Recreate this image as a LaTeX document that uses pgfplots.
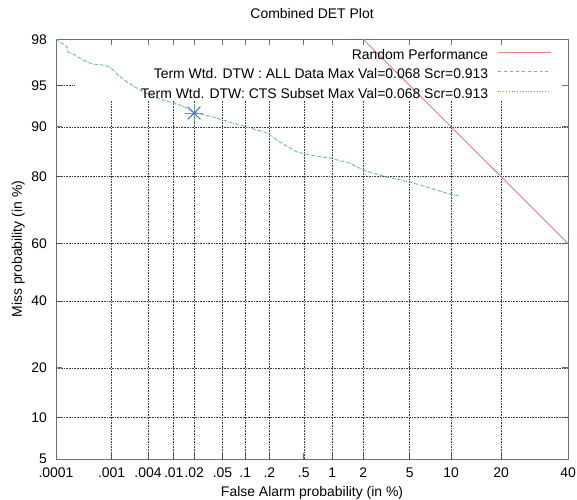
\documentclass[border=0pt]{standalone}
\usepackage{fontspec}
\setmainfont{Liberation Sans}
\usepackage{pgfplots}
\pgfplotsset{compat=1.18}
\definecolor{randred}{RGB}{232,125,125}
\definecolor{detgreen}{RGB}{80,215,110}
\definecolor{detblue}{RGB}{110,140,240}
\definecolor{mkgreen}{RGB}{60,200,60}
\definecolor{mkblue}{RGB}{90,90,230}
\definecolor{bordergray}{RGB}{110,110,110}
\tikzset{detgrid/.style={densely dotted, black!75, line width=0.6bp}}
% DET curve, values stored as normal deviates (probit of the probability)
% columns: probit(false alarm), probit(miss)
\pgfplotstableread{
x y
-4.753 2.054
-4.718 2.029
-4.690 2.010
-4.656 1.985
-4.647 1.940
-4.586 1.914
-4.542 1.888
-4.481 1.852
-4.428 1.835
-4.340 1.826
-4.279 1.808
-4.208 1.738
-4.129 1.676
-4.015 1.606
-3.866 1.535
-3.725 1.491
-3.637 1.465
-3.549 1.412
-3.373 1.368
-3.198 1.315
-3.075 1.280
-2.899 1.227
-2.785 1.147
-2.635 1.059
-2.521 1.033
-2.345 1.006
-2.170 0.962
-2.055 0.901
-1.845 0.839
-1.642 0.795
-1.467 0.742
-1.291 0.689
-1.212 0.672
}\detdata
\begin{document}
\begin{tikzpicture}[font=\fontsize{14}{16}\selectfont]
\begin{axis}[
  at={(56bp,41bp)}, anchor=south west,
  x=113.8bp, y=113.5bp,
  clip=false,
  xmin=-4.7534, xmax=-0.2533,
  ymin=-1.6449, ymax=2.0537,
  xtick={-4.7534,-4.2649,-3.9444,-3.7190,-3.5401,-3.2905,-3.0902,-2.8782,-2.5758,-2.3263,-2.0537,-1.6449,-1.2816,-0.8416,-0.2533},
  xticklabels={.0001,.001,.004,.01,.02,.05,.1,.2,.5,1,2,5,10,20,40},
  ytick={-1.6449,-1.2816,-0.8416,-0.2533,0.2533,0.8416,1.2816,1.6449,2.0537},
  yticklabels={},
  tick align=inside,
  major tick length=6bp,
  tick style={bordergray, line width=0.8bp},
  axis line style={bordergray, line width=1bp},
  /pgf/number format/assume math mode=true,
  xticklabel style={inner sep=0pt, anchor=base, yshift=-18bp},
  title={Combined DET Plot},
  title style={at={(axis description cs:0.5,1.035)}, anchor=base, inner sep=0pt},
  xlabel={False Alarm probability (in \%)},
  xlabel style={at={(axis description cs:0.5,-0.0905)}, anchor=base, inner sep=0pt},
  ylabel={Miss probability (in \%)},
  ylabel style={at={(axis description cs:-0.0664,0.5)}, anchor=base, inner sep=0pt},
  legend plot pos=right,
  legend cell align=right,
  legend style={draw=none, fill=none, inner sep=0pt, outer sep=0pt,
    at={(axis description cs:0.9668,0.9762)}, anchor=north east,
    nodes={inner sep=0pt, text height=10bp, text depth=3bp},
    row sep=6.5bp, column sep=9bp},
  legend image code/.code={\draw[#1] (0bp,3.5bp) -- (53bp,3.5bp);},
]
% grid: vertical lines stop below the key area
\draw[detgrid] (axis cs:-4.2649,-1.6449) -- (axis cs:-4.2649,1.509);
\draw[detgrid] (axis cs:-3.9444,-1.6449) -- (axis cs:-3.9444,1.509);
\draw[detgrid] (axis cs:-3.7190,-1.6449) -- (axis cs:-3.7190,1.509);
\draw[detgrid] (axis cs:-3.5401,-1.6449) -- (axis cs:-3.5401,1.509);
\draw[detgrid] (axis cs:-3.2905,-1.6449) -- (axis cs:-3.2905,1.509);
\draw[detgrid] (axis cs:-3.0902,-1.6449) -- (axis cs:-3.0902,1.509);
\draw[detgrid] (axis cs:-2.8782,-1.6449) -- (axis cs:-2.8782,1.509);
\draw[detgrid] (axis cs:-2.5758,-1.6449) -- (axis cs:-2.5758,1.509);
\draw[detgrid] (axis cs:-2.3263,-1.6449) -- (axis cs:-2.3263,1.509);
\draw[detgrid] (axis cs:-2.0537,-1.6449) -- (axis cs:-2.0537,1.509);
\draw[detgrid] (axis cs:-1.6449,-1.6449) -- (axis cs:-1.6449,1.509);
\draw[detgrid] (axis cs:-1.2816,-1.6449) -- (axis cs:-1.2816,1.509);
\draw[detgrid] (axis cs:-0.8416,-1.6449) -- (axis cs:-0.8416,1.509);
\draw[detgrid] (axis cs:-4.7534,-1.2816) -- (axis cs:-0.2533,-1.2816);
\draw[detgrid] (axis cs:-4.7534,-0.8416) -- (axis cs:-0.2533,-0.8416);
\draw[detgrid] (axis cs:-4.7534,-0.2533) -- (axis cs:-0.2533,-0.2533);
\draw[detgrid] (axis cs:-4.7534,0.2533) -- (axis cs:-0.2533,0.2533);
\draw[detgrid] (axis cs:-4.7534,0.8416) -- (axis cs:-0.2533,0.8416);
\draw[detgrid] (axis cs:-4.7534,1.2816) -- (axis cs:-0.2533,1.2816);
\draw[detgrid] (axis cs:-4.7534,1.6449) -- (axis cs:-4.586,1.6449);
% y tick labels
\node[anchor=east, inner sep=0pt] at (axis cs:-4.8325,-1.6449) {5};
\node[anchor=east, inner sep=0pt] at (axis cs:-4.8325,-1.2816) {10};
\node[anchor=east, inner sep=0pt] at (axis cs:-4.8325,-0.8416) {20};
\node[anchor=east, inner sep=0pt] at (axis cs:-4.8325,-0.2533) {40};
\node[anchor=east, inner sep=0pt] at (axis cs:-4.8325,0.2533) {60};
\node[anchor=east, inner sep=0pt] at (axis cs:-4.8325,0.8416) {80};
\node[anchor=east, inner sep=0pt] at (axis cs:-4.8325,1.2816) {90};
\node[anchor=east, inner sep=0pt] at (axis cs:-4.8325,1.6449) {95};
\node[anchor=east, inner sep=0pt] at (axis cs:-4.8325,2.0537) {98};
\addplot[randred, line width=0.9bp] coordinates {(-2.0537,2.0537) (-0.2533,0.2533)};
\addlegendentry{Random Performance}
\addplot[detgreen, line width=0.8bp, dashed] table[x=x,y=y] {\detdata};
\addlegendentry{Term Wtd. DTW : ALL Data Max Val=0.068 Scr=0.913}
\addplot[detblue, line width=0.8bp, dotted] table[x=x,y=y] {\detdata};
\addlegendentry{Term Wtd. DTW: CTS Subset Max Val=0.068 Scr=0.913}
\addplot[only marks, mark=+, mark size=9bp, mkgreen, mark options={line width=0.9bp}, forget plot] coordinates {(-3.5401,1.403)};
\addplot[only marks, mark=x, mark size=9bp, mkblue, mark options={line width=0.9bp}, forget plot] coordinates {(-3.5401,1.403)};
\end{axis}
\pgfresetboundingbox
\path[use as bounding box] (0,0) rectangle (577bp,500bp);
\end{tikzpicture}
\end{document}
